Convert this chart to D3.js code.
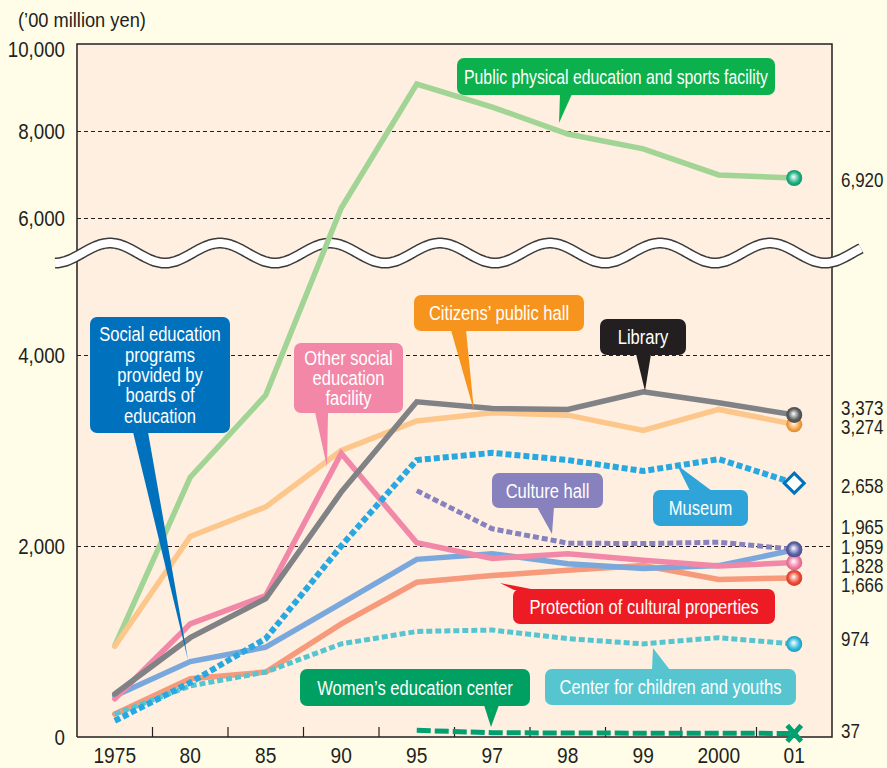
<!DOCTYPE html>
<html lang="en">
<head>
<meta charset="UTF-8">
<title>Social education expenditure</title>
<script src="https://cdn.jsdelivr.net/npm/d3@7"></script>
<style>
  body { margin: 0; background: #fffde8; }
  svg text { font-family: "Liberation Sans", Arial, sans-serif; fill: #231f20; }
  .callout text { fill: #fff; text-anchor: middle; font-size: 19.5px; }
</style>
</head>
<body>
<script>
// categories and values ('00 million yen)
var years = ["1975", "80", "85", "90", "95", "97", "98", "99", "2000", "01"];
var sports      = [955, 2720, 3580, 6230, 9080, 8550, 7930, 7590, 6990, 6920];
var citizens    = [950, 2100, 2410, 3000, 3310, 3395, 3370, 3210, 3430, 3274];
var library     = [450, 1040, 1450, 2565, 3510, 3440, 3430, 3615, 3500, 3373];
var otherSocial = [400, 1185, 1480, 2970, 2035, 1870, 1920, 1850, 1790, 1828];
var boards      = [430, 790, 940, 1400, 1860, 1920, 1815, 1765, 1795, 1959];
var cultural    = [240, 610, 680, 1185, 1620, 1690, 1745, 1795, 1650, 1666];
var museum      = [170, 570, 1030, 2000, 2900, 2975, 2900, 2785, 2910, 2658];
var cultureHall = [null, null, null, null, 2580, 2180, 2030, 2025, 2040, 1965];
var youth       = [240, 535, 680, 975, 1105, 1120, 1030, 975, 1040, 974];
var women       = [null, null, null, null, 70, 45, 42, 40, 40, 37];
var yTicks = [0, 2000, 4000, 6000, 8000, 10000];

var width = 887, height = 768;
var plotL = 77, plotR = 832, plotT = 44, plotB = 737;
var SX = 0.87;  // axis / value text squeeze (original uses a condensed face)
var CSX = 0.85; // callout text squeeze

function at(px, py, s){ return "translate(" + px + "," + py + ") scale(" + (s || SX) + ",1)"; }

var svg = d3.select("body").append("svg")
  .attr("width", width).attr("height", height);

var x = d3.scaleBand().domain(years).range([plotL, plotR]).padding(0);
// broken axis: lower part 0-4000, upper part 6000-10000
var y = d3.scaleLinear().domain([0, 4000, 6000, 10000]).range([plotB, 355, 218, plotT]);
var cx = function(i){ return x(years[i]) + x.bandwidth() / 2; };

var defs = svg.append("defs");

svg.append("rect").attr("x", plotL).attr("y", plotT)
  .attr("width", plotR - plotL).attr("height", plotB - plotT).attr("fill", "#feefe1");

// grid
svg.append("g").selectAll("line")
  .data(yTicks.filter(function(d){ return d > 0 && d < 10000; }))
  .enter().append("line")
  .attr("x1", plotL).attr("x2", plotR)
  .attr("y1", function(d){ return Math.round(y(d)) + 0.5; })
  .attr("y2", function(d){ return Math.round(y(d)) + 0.5; })
  .attr("stroke", "#231f20").attr("stroke-width", 1).attr("stroke-dasharray", "4,3");

// frame
svg.append("path")
  .attr("d", "M" + plotL + "," + plotB + "V" + plotT + "H" + plotR + "V" + plotB + "H" + plotL)
  .attr("fill", "none").attr("stroke", "#231f20").attr("stroke-width", 1.5);

// x ticks at band boundaries
svg.append("g").selectAll("line")
  .data(years.slice(1))
  .enter().append("line")
  .attr("x1", function(d){ return x(d); }).attr("x2", function(d){ return x(d); })
  .attr("y1", plotB).attr("y2", plotB - 10)
  .attr("stroke", "#231f20").attr("stroke-width", 1.2);

svg.append("g").selectAll("text")
  .data(years)
  .enter().append("text")
  .attr("transform", function(d){ return at(x(d) + x.bandwidth() / 2, 763); })
  .attr("text-anchor", "middle")
  .attr("font-size", 22)
  .text(function(d){ return d; });

svg.append("g").selectAll("text")
  .data(yTicks)
  .enter().append("text")
  .attr("transform", function(d){ return at(65, Math.max(y(d), 49) + 7.5); })
  .attr("text-anchor", "end")
  .attr("font-size", 21.5)
  .text(function(d){ return d3.format(",")(d); });

svg.append("text").attr("transform", at(18, 27)).attr("font-size", 21)
  .text("(\u201900 million yen)");

// axis break
var wave = d3.range(55, 862, 2).map(function(px){
  return [px, 253 - 10 * Math.cos(2 * Math.PI * (px - 110) / 110)];
});
var waveLine = d3.line().curve(d3.curveBasis);
svg.append("path").attr("d", waveLine(wave)).attr("fill", "none")
  .attr("stroke", "#3a3a3a").attr("stroke-width", 11);
svg.append("path").attr("d", waveLine(wave)).attr("fill", "none")
  .attr("stroke", "#fff").attr("stroke-width", 8);

// series
var series = [
  { v: sports, color: "#a2d495", w: 5.5, end: "#1aae80", mark: "dot" },
  { v: citizens, color: "#fdc78b", w: 5.5, end: "#f8a240", mark: "dot" },
  { v: cultural, color: "#f7997b", w: 5.5, end: "#ee4a33", mark: "dot" },
  { v: youth, color: "#56c5d0", w: 5, dash: "6,3", end: "#2ab7d9", mark: "dot" },
  { v: boards, color: "#7ba8dc", w: 5.5, end: "#5b5fa8", mark: "dot" },
  { v: otherSocial, color: "#f288a8", w: 5.5, end: "#f07aa0", mark: "dot" },
  { v: library, color: "#808285", w: 5.5, end: "#58595b", mark: "dot" },
  { v: museum, color: "#27a8e0", w: 6, dash: "6,3", end: "#0072bc", mark: "diamond" },
  { v: cultureHall, color: "#8781bd", w: 5, dash: "6,3", end: "#5b5fa8", mark: "dot" },
  { v: women, color: "#00a070", w: 5, dash: "14,4", end: "#00a070", mark: "cross" }
];

var line = d3.line()
  .defined(function(d){ return d != null; })
  .x(function(d, i){ return cx(i); })
  .y(function(d){ return y(d); });

svg.append("g").selectAll("path")
  .data(series)
  .enter().append("path")
  .attr("d", function(s){ return line(s.v); })
  .attr("fill", "none")
  .attr("stroke", function(s){ return s.color; })
  .attr("stroke-width", function(s){ return s.w; })
  .attr("stroke-dasharray", function(s){ return s.dash || null; })
  .attr("stroke-linecap", function(s){ return s.dash ? "butt" : "round"; })
  .attr("stroke-linejoin", "miter");

// callouts
var callouts = [
  { t: ["Public physical education and sports facility"], x: 457, y: 58, w: 318, h: 37, fill: "#0cb04c",
    tail: [[560, 94], [572, 94], [559, 123]] },
  { t: ["Citizens\u2019 public hall"], x: 414, y: 295, w: 170, h: 36, fill: "#f7941d",
    tail: [[451, 330], [466, 330], [474, 411]] },
  { t: ["Library"], x: 600, y: 319, w: 86, h: 36, fill: "#231f20",
    tail: [[636, 354], [651, 354], [645, 391]] },
  { t: ["Other social", "education", "facility"], x: 294, y: 343, w: 109, h: 70, fill: "#f287a8",
    tail: [[315, 412], [328, 412], [327, 467]] },
  { t: ["Social education", "programs", "provided by", "boards of", "education"], x: 90, y: 317, w: 140, h: 116, fill: "#0071bc",
    tail: [[133, 432], [148, 432], [188, 660]] },
  { t: ["Culture hall"], x: 492, y: 473, w: 111, h: 35, fill: "#8781bd",
    tail: [[537, 507], [554, 507], [552, 534]] },
  { t: ["Museum"], x: 653, y: 490, w: 95, h: 36, fill: "#2fa4d8",
    tail: [[690, 491], [712, 491], [677, 465]] },
  { t: ["Protection of cultural properties"], x: 513, y: 589, w: 262, h: 35, fill: "#ed1c24",
    tail: [[514, 590], [536, 590], [500, 583]] },
  { t: ["Center for children and youths"], x: 545, y: 669, w: 251, h: 36, fill: "#56c5d0",
    tail: [[652, 670], [670, 670], [653, 648]] },
  { t: ["Women\u2019s education center"], x: 300, y: 669, w: 230, h: 37, fill: "#00a062",
    tail: [[484, 705], [499, 705], [491, 727]] }
];

var cg = svg.append("g").selectAll("g")
  .data(callouts)
  .enter().append("g").attr("class", "callout");

cg.append("rect")
  .attr("x", function(d){ return d.x; }).attr("y", function(d){ return d.y; })
  .attr("width", function(d){ return d.w; }).attr("height", function(d){ return d.h; })
  .attr("rx", 7).attr("fill", function(d){ return d.fill; });
cg.append("polygon")
  .attr("points", function(d){ return d.tail.map(function(p){ return p.join(","); }).join(" "); })
  .attr("fill", function(d){ return d.fill; });
cg.each(function(d){
  var n = d.t.length, lh = 20.3;
  var y0 = d.y + d.h / 2 - (n - 1) * lh / 2 + 7;
  d3.select(this).selectAll("text")
    .data(d.t)
    .enter().append("text")
    .attr("transform", function(t, i){ return at(d.x + d.w / 2, y0 + i * lh, CSX); })
    .text(function(t){ return t; })
    .each(function(){
      // keep long labels inside their box
      var maxW = (d.w - 14) / CSX;
      if (this.getComputedTextLength() > maxW) {
        d3.select(this).attr("textLength", maxW).attr("lengthAdjust", "spacingAndGlyphs");
      }
    });
});

// end markers
var last = years.length - 1;
series.forEach(function(s, k){
  var px = cx(last), py = y(s.v[last]);
  if (s.mark === "dot") {
    var g = defs.append("radialGradient").attr("id", "g" + k)
      .attr("cx", "50%").attr("cy", "50%").attr("r", "55%").attr("fx", "45%").attr("fy", "42%");
    g.append("stop").attr("offset", "0%").attr("stop-color", "#ffffff");
    g.append("stop").attr("offset", "65%").attr("stop-color", s.end);
    g.append("stop").attr("offset", "100%").attr("stop-color", d3.color(s.end).darker(0.6));
    svg.append("circle").attr("cx", px).attr("cy", py).attr("r", 8)
      .attr("fill", "url(#g" + k + ")");
  } else if (s.mark === "diamond") {
    svg.append("path")
      .attr("d", "M" + px + "," + (py - 10) + "L" + (px + 10) + "," + py + "L" + px + "," + (py + 10) + "L" + (px - 10) + "," + py + "Z")
      .attr("fill", "#fff").attr("stroke", s.end).attr("stroke-width", 3);
  } else {
    svg.append("path")
      .attr("d", "M" + (px - 7) + "," + (py - 8) + "L" + (px + 7) + "," + (py + 8) + "M" + (px + 7) + "," + (py - 8) + "L" + (px - 7) + "," + (py + 8))
      .attr("stroke", s.end).attr("stroke-width", 5).attr("stroke-linecap", "butt");
  }
});

// end value labels (shifted apart where they crowd)
var endLabels = [
  { v: sports, ly: 180 }, { v: library, ly: 408 }, { v: citizens, ly: 427 },
  { v: museum, ly: 486 }, { v: cultureHall, ly: 527 }, { v: boards, ly: 547 },
  { v: otherSocial, ly: 566 }, { v: cultural, ly: 585 }, { v: youth, ly: 639 },
  { v: women, ly: 731 }
];
svg.append("g").selectAll("text")
  .data(endLabels)
  .enter().append("text")
  .attr("transform", function(d){ return at(841, d.ly + 6.5); })
  .attr("font-size", 19.5)
  .text(function(d){ return d3.format(",")(d.v[last]); });
</script>
</body>
</html>
